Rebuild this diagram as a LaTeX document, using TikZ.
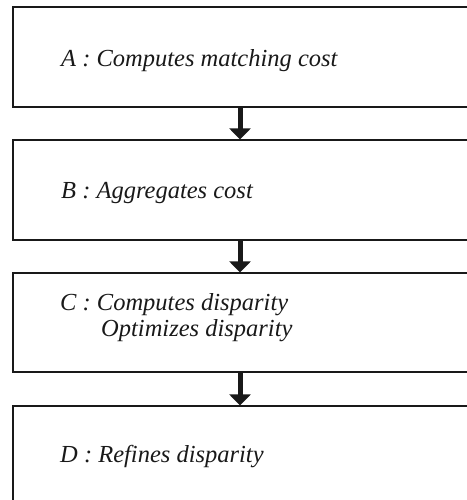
\documentclass[tikz,border=0pt]{standalone}
\usepackage{fontspec}
\setmainfont{Liberation Serif}
\usetikzlibrary{arrows.meta}
\begin{document}
\begin{tikzpicture}[x=1pt,y=1pt,
  stagebox/.style={draw=black!90, line width=1.2pt, rectangle, minimum width=475pt, inner sep=0pt},
  stagetext/.style={anchor=base west, inner sep=0pt, font=\fontsize{24.5}{28}\selectfont\itshape, text=black!90},
  flow/.style={line width=5pt, draw=black!90, -{Triangle[width=21pt,length=11pt]}}]
  \useasboundingbox (0,0) rectangle (466,500);
  % the four processing stages (right edges run past the page)
  \node[stagebox, minimum height=100pt] (A) at (250.5,443) {};
  \node[stagebox, minimum height=100pt] (B) at (250.5,310) {};
  \node[stagebox, minimum height=99pt]  (C) at (250.5,177.5) {};
  \node[stagebox, minimum height=104pt] (D) at (250.5,42) {};
  % vertical line the arrows follow
  \coordinate (axis) at (240,0);
  % stage labels
  \node[stagetext] (ta) at (61,433) {A : Computes matching cost};
  \node[stagetext] (tb) at (61,301) {B : Aggregates cost};
  \node[stagetext] (tc) at (60,189) {C : Computes disparity};
  \node[stagetext] (tc2) at (101,163) {Optimizes disparity};
  \node[stagetext] (td) at (60,37) {D : Refines disparity};
  % arrows between stages
  \draw[flow] (A.south -| axis) -- (B.north -| axis);
  \draw[flow] (B.south -| axis) -- (C.north -| axis);
  \draw[flow] (C.south -| axis) -- (D.north -| axis);
\end{tikzpicture}
\end{document}
